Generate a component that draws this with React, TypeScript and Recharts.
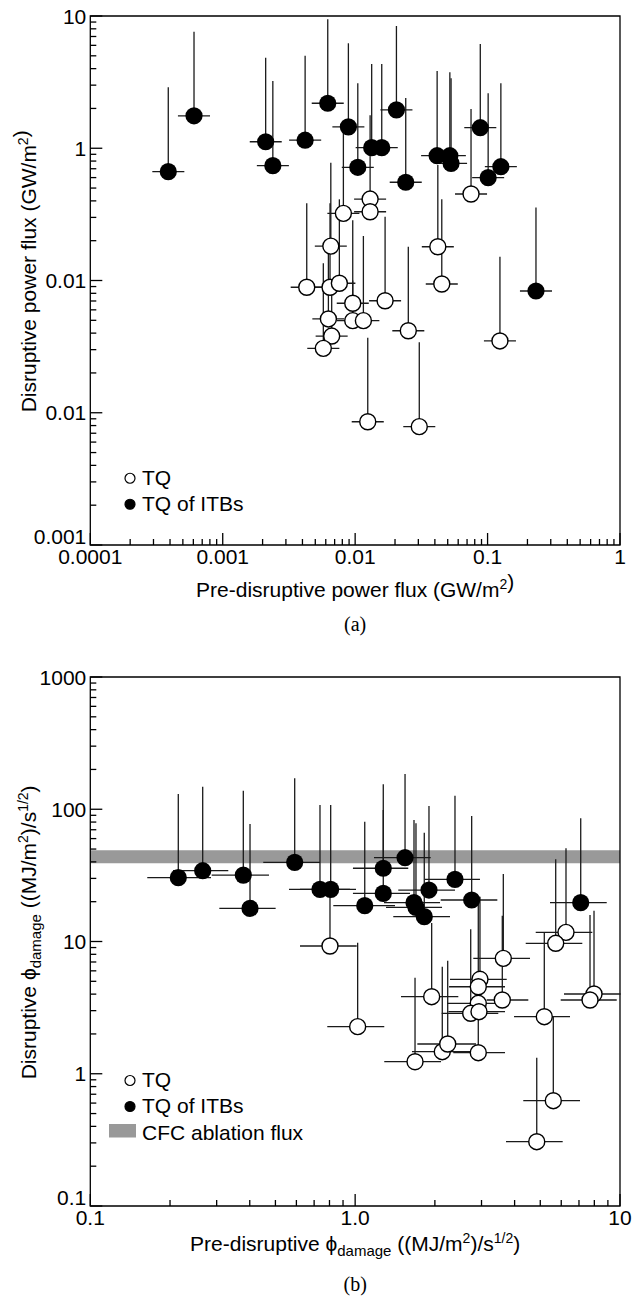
// Two stacked log–log scatter panels with asymmetric error bars (TQ vs TQ of ITBs).
import React from "react";
import { ScatterChart, Scatter, XAxis, YAxis, ErrorBar, ReferenceArea, Legend } from "recharts";

const SANS = '"Liberation Sans", Arial, Helvetica, sans-serif';
const SERIF = '"Liberation Serif", "Times New Roman", serif';

// each point: [x, y, xLow, xHigh, yHigh] (bars only go up in y)
type Pt = [number, number, number, number, number];

// panel (a): power flux, GW/m2
const TQ_A: Pt[] = [
  [0.01297, 0.413, 0.00982, 0.01713, 1.78],
  [0.01297, 0.331, 0.00982, 0.01713, 0.41],
  [8.15e-3, 0.322, 6.17e-3, 0.01077, 1.37],
  [6.55e-3, 0.182, 4.96e-3, 8.65e-3, 0.778],
  [0.0421, 0.18, 0.03187, 0.05561, 0.746],
  [0.0451, 0.0941, 0.03414, 0.05958, 0.411],
  [0.075, 0.451, 0.05678, 0.09908, 1.98],
  [4.31e-3, 0.0889, 3.26e-3, 5.69e-3, 0.384],
  [6.46e-3, 0.0889, 4.89e-3, 8.53e-3, 0.384],
  [7.6e-3, 0.0953, 5.75e-3, 0.01004, 0.411],
  [9.59e-3, 0.0673, 7.26e-3, 0.01267, 0.286],
  [0.01683, 0.0703, 0.01274, 0.02223, 0.303],
  [6.28e-3, 0.0512, 4.75e-3, 8.3e-3, 0.2],
  [9.59e-3, 0.0497, 7.26e-3, 0.01267, 0.1],
  [0.01154, 0.0497, 8.74e-3, 0.01524, 0.217],
  [6.65e-3, 0.038, 5.03e-3, 8.78e-3, 0.1],
  [5.75e-3, 0.0307, 4.35e-3, 7.6e-3, 0.135],
  [0.0252, 0.0417, 0.01908, 0.03329, 0.18],
  [0.124, 0.0349, 0.09387, 0.1638, 0.151],
  [0.01245, 0.00855, 9.42e-3, 0.01645, 0.0369],
  [0.0305, 0.00785, 0.02309, 0.04029, 0.0341],
];

const ITB_A: Pt[] = [
  [3.88e-4, 0.665, 2.94e-4, 5.13e-4, 2.89],
  [6.07e-4, 1.76, 4.59e-4, 8.02e-4, 7.6],
  [2.11e-3, 1.12, 1.6e-3, 2.79e-3, 4.84],
  [2.39e-3, 0.738, 1.81e-3, 3.16e-3, 3.22],
  [4.19e-3, 1.15, 3.17e-3, 5.54e-3, 5.01],
  [6.21e-3, 2.19, 4.7e-3, 8.2e-3, 9.44],
  [8.89e-3, 1.45, 6.73e-3, 0.01174, 6.22],
  [0.01047, 0.718, 7.93e-3, 0.01383, 3.1],
  [0.01333, 1.01, 0.01009, 0.01761, 4.33],
  [0.01588, 1.01, 0.01202, 0.02098, 4.33],
  [0.0205, 1.95, 0.01552, 0.02708, 8.4],
  [0.0241, 0.553, 0.01824, 0.03184, 2.4],
  [0.0416, 0.878, 0.03149, 0.05495, 3.84],
  [0.0519, 0.878, 0.03929, 0.06856, 3.75],
  [0.053, 0.769, 0.04012, 0.07001, 3.38],
  [0.0881, 1.43, 0.06669, 0.1164, 6.14],
  [0.101, 0.599, 0.07646, 0.1334, 2.6],
  [0.126, 0.725, 0.09538, 0.1664, 3.1],
  [0.232, 0.0833, 0.1756, 0.3065, 0.357],
];

// panel (b): damage parameter, (MJ/m2)/s^1/2
const TQ_B: Pt[] = [
  [0.8035, 9.25, 0.6191, 1.0136, 24.0],
  [1.022, 2.27, 0.7848, 1.288, 9.79],
  [1.945, 3.825, 1.49, 2.452, 13.8],
  [1.683, 1.233, 1.288, 2.11, 5.32],
  [2.133, 1.468, 1.639, 2.714, 6.45],
  [2.236, 1.679, 1.717, 2.859, 7.16],
  [2.917, 1.443, 2.347, 3.68, 3.43],
  [2.96, 5.18, 2.281, 3.735, 21.8],
  [2.917, 4.55, 2.262, 3.68, 21.8],
  [2.917, 3.41, 2.223, 3.626, 5.0],
  [2.731, 2.865, 2.122, 3.471, 12.37],
  [2.935, 2.946, 2.25, 3.68, 3.6],
  [3.594, 3.612, 3.138, 4.506, 15.67],
  [3.626, 7.46, 2.793, 4.573, 32.4],
  [5.178, 2.7, 3.98, 6.475, 11.66],
  [5.6, 0.6255, 4.313, 7.063, 2.7],
  [4.849, 0.3064, 3.712, 6.076, 1.323],
  [6.253, 11.73, 4.806, 7.861, 50.7],
  [5.718, 9.69, 4.406, 7.206, 41.8],
  [7.978, 4.01, 6.146, 10.06, 17.1],
  [7.705, 3.612, 5.972, 9.72, 15.86],
];

const ITB_B: Pt[] = [
  [0.2149, 30.4, 0.1641, 0.2856, 130.4],
  [0.2657, 34.3, 0.2052, 0.3319, 148.1],
  [0.3782, 31.8, 0.2873, 0.4728, 138.1],
  [0.4009, 17.8, 0.307, 0.501, 77.3],
  [0.5912, 39.7, 0.4498, 0.7366, 171.4],
  [0.7366, 24.8, 0.5626, 0.956, 107.7],
  [0.8084, 24.8, 0.6191, 1.0074, 107.7],
  [1.087, 18.65, 0.827, 1.414, 80.5],
  [1.277, 35.8, 0.981, 1.587, 154.4],
  [1.277, 23.1, 0.981, 1.611, 98.7],
  [1.543, 43.0, 1.178, 1.929, 184.7],
  [1.668, 19.65, 1.285, 2.091, 82.9],
  [1.697, 18.14, 1.308, 2.128, 78.3],
  [1.824, 15.4, 1.393, 2.281, 66.5],
  [1.9, 24.5, 1.455, 2.382, 105.8],
  [2.382, 29.5, 1.835, 2.96, 126.6],
  [2.754, 20.6, 2.104, 3.442, 88.9],
  [7.107, 19.65, 5.442, 8.91, 85.4],
];

const CFC_BAND = [39, 49];

// decades and their printed labels (panel a's y labels are as printed in the figure)
const A_X_TICKS = [1e-4, 1e-3, 1e-2, 1e-1, 1];
const A_X_LABELS = ["0.0001", "0.001", "0.01", "0.1", "1"];
const A_Y_TICKS = [1e-3, 1e-2, 1e-1, 1, 10];
const A_Y_LABELS = ["0.001", "0.01", "0.01", "1", "10"];
const B_X_TICKS = [0.1, 1, 10];
const B_X_LABELS = ["0.1", "1.0", "10"];
const B_Y_TICKS = [0.1, 1, 10, 100, 1000];
const B_Y_LABELS = ["0.1", "1", "10", "100", "1000"];

const toRows = (pts: Pt[]) =>
  pts.map(([x, y, xLo, xHi, yHi]) => ({ x, y, ex: [x - xLo, xHi - x], ey: [0, yHi - y] }));

// decade ticks plus 2..9 minor ticks inside each decade
const withMinors = (majors: number[]) => {
  const out: number[] = [];
  majors.forEach((m, i) => {
    out.push(m);
    if (i < majors.length - 1) for (let k = 2; k <= 9; k++) out.push(m * k);
  });
  return out;
};

const majorIndex = (v: number, majors: number[]) => majors.findIndex((m) => Math.abs(v / m - 1) < 1e-6);

const LINE = "#1a1a1a";
const SW = 1.3;

function XTick({ x, y, payload, majors, labels }: any) {
  const i = majorIndex(payload.value, majors);
  return (
    <g>
      <line x1={x} x2={x} y1={y} y2={y - (i >= 0 ? 12 : 6)} stroke="#000" strokeWidth={SW} />
      {i >= 0 && (
        <text x={x} y={y + 19} textAnchor="middle" fontFamily={SANS} fontSize={21} fill="#000">
          {labels[i]}
        </text>
      )}
    </g>
  );
}

function YTick({ x, y, payload, majors, labels }: any) {
  const i = majorIndex(payload.value, majors);
  return (
    <g>
      <line x1={x} x2={x + (i >= 0 ? 12 : 6)} y1={y} y2={y} stroke="#000" strokeWidth={SW} />
      {i >= 0 && (
        <text x={x - 4} y={y + 7.5 - (i === 0 ? 9 : 0)} textAnchor="end" fontFamily={SANS} fontSize={21} fill="#000">
          {labels[i]}
        </text>
      )}
    </g>
  );
}

const openDot = (p: any) => <circle cx={p.cx} cy={p.cy} r={8} fill="#fff" stroke="#000" strokeWidth={1.4} />;
const fullDot = (p: any) => <circle cx={p.cx} cy={p.cy} r={8.6} fill="#000" />;

type LegendItem = { label: string; kind: "open" | "full" | "band" };

function LegendBox({ items, lh }: { items: LegendItem[]; lh: number }) {
  const base = (lh - 23.5) / 2 + 19;
  return (
    <div style={{ fontFamily: SANS, fontSize: 21, lineHeight: `${lh}px`, color: "#000" }}>
      {items.map((it) => (
        <div key={it.label} style={{ display: "flex", whiteSpace: "nowrap" }}>
          <svg width={27} height={lh} style={{ flex: "none", marginRight: 6 }}>
            {it.kind === "band" ? (
              <rect x={0} y={base - 16.5} width={27} height={13.5} fill="#999" />
            ) : (
              <circle
                cx={21}
                cy={base - 7}
                r={5}
                fill={it.kind === "full" ? "#000" : "#fff"}
                stroke="#000"
                strokeWidth={1.2}
              />
            )}
          </svg>
          <span>{it.label}</span>
        </div>
      ))}
    </div>
  );
}

const Sup = ({ children }: { children: string }) => (
  <>
    <tspan fontSize={14} dy={-8}>
      {children}
    </tspan>
    <tspan dy={8}>{""}</tspan>
  </>
);

const UNIT_B = (
  <>
    <tspan>ϕ</tspan>
    <tspan fontSize={15} dy={5}>
      damage
    </tspan>
    <tspan dy={-5}> ((MJ/m</tspan>
    <tspan fontSize={14} dy={-8}>
      2
    </tspan>
    <tspan dy={8}>)/s</tspan>
    <tspan fontSize={14} dy={-8}>
      1/2
    </tspan>
    <tspan dy={8}>)</tspan>
  </>
);

const W = 644;
const LEFT = 90.3;
const RIGHT = 24;

function Panel({
  height,
  top,
  axisH,
  xDomain,
  yDomain,
  xTicks,
  xLabels,
  yTicks,
  yLabels,
  tq,
  itb,
  band,
  yTitle,
  xTitle,
  tag,
  legend,
  legendTop,
  lh,
}: any) {
  const plotBottom = height - axisH;
  const cx = LEFT + (W - LEFT - RIGHT) / 2;
  const cy = (top + plotBottom) / 2;
  return (
    <ScatterChart width={W} height={height} margin={{ top, right: RIGHT, bottom: 0, left: 0 }}>
      {band && (
        <ReferenceArea
          x1={xDomain[0]}
          x2={xDomain[1]}
          y1={band[0]}
          y2={band[1]}
          fill="#999"
          fillOpacity={1}
          stroke="none"
        />
      )}
      <XAxis
        dataKey="x"
        type="number"
        scale="log"
        domain={xDomain}
        allowDataOverflow
        ticks={withMinors(xTicks)}
        interval={0}
        tickSize={0}
        tickMargin={0}
        tickLine={false}
        axisLine={false}
        height={axisH}
        tick={<XTick majors={xTicks} labels={xLabels} />}
        label={
          <g>
            <text x={cx} y={plotBottom + (band ? 45 : 52)} textAnchor="middle" fontFamily={SANS} fontSize={21} fill="#000">
              {xTitle}
            </text>
            <text x={cx} y={plotBottom + (band ? 85 : 86)} textAnchor="middle" fontFamily={SERIF} fontSize={20} fill="#000">
              {tag}
            </text>
          </g>
        }
      />
      <YAxis
        dataKey="y"
        type="number"
        scale="log"
        domain={yDomain}
        allowDataOverflow
        ticks={withMinors(yTicks)}
        interval={0}
        tickSize={0}
        tickMargin={0}
        tickLine={false}
        axisLine={false}
        width={LEFT}
        tick={<YTick majors={yTicks} labels={yLabels} />}
        label={
          <text
            x={36}
            y={cy}
            transform={`rotate(-90 36 ${cy})`}
            textAnchor="middle"
            fontFamily={SANS}
            fontSize={21}
            fill="#000"
          >
            {yTitle}
          </text>
        }
      />
      <ReferenceArea
        x1={xDomain[0]}
        x2={xDomain[1]}
        y1={yDomain[0]}
        y2={yDomain[1]}
        fill="none"
        stroke="#000"
        strokeWidth={SW}
        fillOpacity={0}
      />
      <Scatter name="TQ" data={toRows(tq)} shape={openDot} isAnimationActive={false}>
        <ErrorBar dataKey="ex" direction="x" width={0} stroke={LINE} strokeWidth={SW} isAnimationActive={false} />
        <ErrorBar dataKey="ey" direction="y" width={0} stroke={LINE} strokeWidth={SW} isAnimationActive={false} />
      </Scatter>
      <Scatter name="TQ of ITBs" data={toRows(itb)} shape={fullDot} isAnimationActive={false}>
        <ErrorBar dataKey="ex" direction="x" width={0} stroke={LINE} strokeWidth={SW} isAnimationActive={false} />
        <ErrorBar dataKey="ey" direction="y" width={0} stroke={LINE} strokeWidth={SW} isAnimationActive={false} />
      </Scatter>
      <Legend
        layout="vertical"
        align="center"
        verticalAlign="middle"
        wrapperStyle={{ left: 109, top: legendTop, right: "auto", bottom: "auto", width: 260 }}
        content={() => <LegendBox items={legend} lh={lh} />}
      />
    </ScatterChart>
  );
}

export default function App() {
  return (
    <div style={{ position: "absolute", left: 0, top: 0, width: 644, height: 1298, background: "#fff" }}>
      <Panel
        height={640}
        top={16}
        axisH={95}
        xDomain={[1e-4, 1]}
        yDomain={[1e-3, 10]}
        xTicks={A_X_TICKS}
        xLabels={A_X_LABELS}
        yTicks={A_Y_TICKS}
        yLabels={A_Y_LABELS}
        tq={TQ_A}
        itb={ITB_A}
        yTitle={
          <>
            Disruptive power flux (GW/m<Sup>2</Sup>)
          </>
        }
        xTitle={
          <>
            Pre-disruptive power flux (GW/m<Sup>2</Sup>)
          </>
        }
        tag="(a)"
        legend={[
          { label: "TQ", kind: "open" },
          { label: "TQ of ITBs", kind: "full" },
        ]}
        legendTop={465.4}
        lh={26}
      />
      <Panel
        height={658}
        top={37}
        axisH={92}
        xDomain={[0.1, 10]}
        yDomain={[0.1, 1000]}
        xTicks={B_X_TICKS}
        xLabels={B_X_LABELS}
        yTicks={B_Y_TICKS}
        yLabels={B_Y_LABELS}
        tq={TQ_B}
        itb={ITB_B}
        band={CFC_BAND}
        yTitle={<>Disruptive {UNIT_B}</>}
        xTitle={<>Pre-disruptive {UNIT_B}</>}
        tag="(b)"
        legend={[
          { label: "TQ", kind: "open" },
          { label: "TQ of ITBs", kind: "full" },
          { label: "CFC ablation flux", kind: "band" },
        ]}
        legendTop={426.5}
        lh={26.5}
      />
    </div>
  );
}
